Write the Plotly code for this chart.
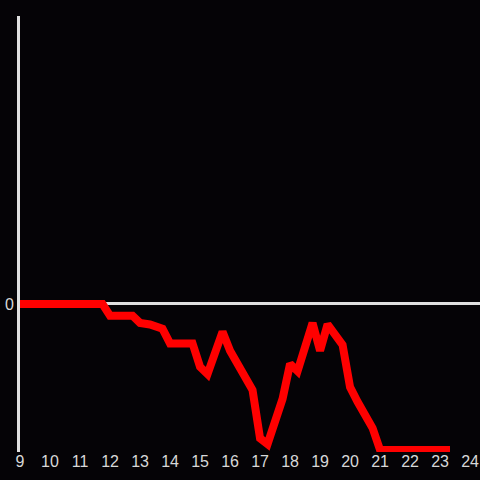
import plotly.graph_objects as go

hours = [9, 11.75, 12, 12.75, 13, 13.33, 13.75, 14, 14.75, 15, 15.25, 15.75, 16, 16.33,
         16.75, 17, 17.25, 17.75, 18, 18.25, 18.75, 19, 19.25, 19.75, 20, 20.25, 20.75,
         21, 23.33]
values = [0, 0, -0.08, -0.08, -0.13, -0.14, -0.17, -0.27, -0.27, -0.43, -0.48, -0.19,
          -0.32, -0.44, -0.59, -0.92, -0.96, -0.65, -0.41, -0.46, -0.13, -0.32, -0.14,
          -0.28, -0.57, -0.67, -0.85, -1.0, -1.0]
x_ticks = list(range(9, 25))
y_ticks = [0]

fig = go.Figure()
fig.add_trace(go.Scatter(x=hours, y=values, mode="lines",
                         line=dict(color="#ff0000", width=8), hoverinfo="skip"))
fig.update_layout(
    width=480, height=480,
    paper_bgcolor="#050306", plot_bgcolor="#050306",
    margin=dict(l=20, r=0, t=16, b=28),
    showlegend=False,
    font=dict(family="Liberation Sans, Arial", size=16, color="#d8d8d8"),
)
fig.update_xaxes(range=[9, 24.33], tickvals=x_ticks, showgrid=False, zeroline=False,
                 showline=False, ticks="", ticklabelstandoff=-2)
fig.update_yaxes(range=[-1.014, 1.973], tickvals=y_ticks, showgrid=False, zeroline=True,
                 zerolinecolor="#e0e0e0", zerolinewidth=3, showline=True,
                 linecolor="#e0e0e0", linewidth=3, ticks="", ticklabelstandoff=0)
fig.write_html("out.html", config={"displayModeBar": False},
               post_script="document.body.style.margin='0';document.body.style.background='#050306';")
